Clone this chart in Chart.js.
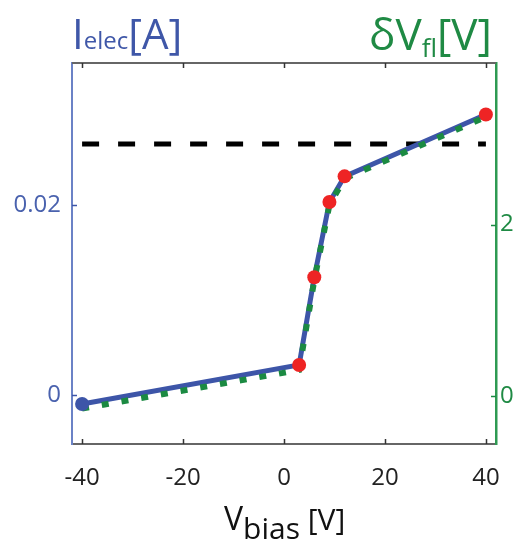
<!DOCTYPE html>
<html>
<head>
<meta charset="utf-8">
<script src="https://cdn.jsdelivr.net/npm/chart.js@4.4.1/dist/chart.umd.min.js"></script>
<style>
  html, body { margin: 0; padding: 0; background: #fff; }
  #wrap { position: relative; width: 517px; height: 542px; font-family: 'Open Sans', sans-serif; }
  canvas { position: absolute; left: 0; top: 0; }
  .ttl { position: absolute; white-space: nowrap; line-height: 1; }
</style>
</head>
<body>
<div id="wrap">
  <canvas id="c" width="517" height="542"></canvas>
  <div class="ttl" style="left:72px; top:12px; color:#3f57a8; font-size:42px;"><span>I</span><span style="font-size:24px">elec</span><span>[A]</span></div>
  <div class="ttl" style="left:369px; top:11px; color:#1f8a44; font-size:44px;"><span>δV</span><span style="font-size:26px; position:relative; top:7px;">fl</span><span>[V]</span></div>
  <div class="ttl" style="left:224px; top:502px; color:#111; font-size:32px;"><span>V</span><span style="font-size:30px; position:relative; top:9px;">bias</span><span style="font-size:30px;"> [V]</span></div>
</div>
<script>
// bias voltage [V]
const vBias = [-40, 3, 6, 9, 12, 40];
// electron current [A] (left axis)
const iElec = [-0.0009, 0.0032, 0.0124, 0.0203, 0.0230, 0.0295];
// floating potential shift [V] (right axis)
const dVfl = [-0.15, 0.30, 1.35, 2.23, 2.54, 3.26];
// horizontal reference level [A]
const refX = [-40, 40];
const refLevel = 0.0264;

const xTicks = [-40, -20, 0, 20, 40];
const leftTicks = [0, 0.02];
const rightTicks = [0, 2];

const BLUE = '#3d55a8';
const GREEN = '#1b8a42';
const RED = '#ee2424';

const pts = (xs, ys) => xs.map((x, i) => ({ x: x, y: ys[i] }));

const innerTicks = {
    id: 'innerTicks',
    afterDraw(chart) {
        const ctx = chart.ctx;
        const a = chart.chartArea;
        const sx = chart.scales.x, sy = chart.scales.y, sy2 = chart.scales.y2;
        ctx.save();
        // top frame line
        ctx.strokeStyle = '#666';
        ctx.lineWidth = 2;
        ctx.beginPath();
        ctx.moveTo(a.left, a.top);
        ctx.lineTo(a.right, a.top);
        ctx.stroke();
        ctx.lineWidth = 1.5;
        ctx.strokeStyle = '#333';
        xTicks.forEach(v => {
            const px = Math.round(sx.getPixelForValue(v)) + 0.5;
            ctx.beginPath();
            ctx.moveTo(px, a.bottom); ctx.lineTo(px, a.bottom - 5);
            ctx.moveTo(px, a.top); ctx.lineTo(px, a.top + 5);
            ctx.stroke();
        });
        ctx.strokeStyle = BLUE;
        leftTicks.forEach(v => {
            const py = Math.round(sy.getPixelForValue(v)) + 0.5;
            ctx.beginPath();
            ctx.moveTo(a.left, py); ctx.lineTo(a.left + 5, py);
            ctx.stroke();
        });
        ctx.strokeStyle = GREEN;
        rightTicks.forEach(v => {
            const py = Math.round(sy2.getPixelForValue(v)) + 0.5;
            ctx.beginPath();
            ctx.moveTo(a.right, py); ctx.lineTo(a.right - 5, py);
            ctx.stroke();
        });
        ctx.restore();
    }
};

new Chart(document.getElementById('c'), {
    type: 'line',
    data: {
        datasets: [
            {
                // markers on top
                data: pts(vBias, iElec),
                yAxisID: 'y',
                showLine: false,
                pointRadius: 7,
                pointBorderWidth: 0,
                pointBackgroundColor: vBias.map((v, i) => i === 0 ? BLUE : RED),
                order: 0
            },
            {
                data: pts(vBias, dVfl),
                yAxisID: 'y2',
                borderColor: GREEN,
                borderWidth: 6,
                borderDash: [7, 13],
                borderCapStyle: 'butt',
                pointRadius: 0,
                tension: 0,
                order: 1
            },
            {
                data: pts(vBias, iElec),
                yAxisID: 'y',
                borderColor: BLUE,
                borderWidth: 5,
                pointRadius: 0,
                tension: 0,
                order: 2
            },
            {
                data: pts(refX, [refLevel, refLevel]),
                yAxisID: 'y',
                borderColor: '#000',
                borderWidth: 5,
                borderDash: [17, 19],
                pointRadius: 0,
                order: 3
            }
        ]
    },
    options: {
        responsive: false,
        animation: false,
        layout: { padding: { top: 63, left: 0, right: 0, bottom: 0 } },
        plugins: { legend: { display: false }, tooltip: { enabled: false } },
        scales: {
            x: {
                type: 'linear',
                min: -42, max: 42,
                afterBuildTicks: s => { s.ticks = xTicks.map(v => ({ value: v })); },
                afterFit: s => { s.height = 98; s.paddingLeft = 0; s.paddingRight = 0; },
                grid: { display: false, drawTicks: false },
                border: { display: true, color: '#666', width: 2 },
                ticks: { color: '#222', padding: 20, maxRotation: 0, font: { family: 'Open Sans', size: 24 } }
            },
            y: {
                position: 'left',
                min: -0.0051, max: 0.0349,
                afterBuildTicks: s => { s.ticks = leftTicks.map(v => ({ value: v })); },
                afterFit: s => { s.width = 72; },
                grid: { display: false, drawTicks: false },
                border: { display: true, color: '#6b82c6', width: 2 },
                ticks: {
                    color: '#4a62ae', padding: 11,
                    font: { family: 'Open Sans', size: 24 },
                    callback: v => v === 0 ? '0' : String(v)
                }
            },
            y2: {
                position: 'right',
                min: -0.565, max: 3.89,
                afterBuildTicks: s => { s.ticks = rightTicks.map(v => ({ value: v })); },
                afterFit: s => { s.width = 21; },
                grid: { display: false, drawTicks: false },
                border: { display: true, color: '#2e9a52', width: 2.5 },
                ticks: { color: '#1f8a44', padding: 4, font: { family: 'Open Sans', size: 24 } }
            }
        }
    },
    plugins: [innerTicks]
});
</script>
</body>
</html>
